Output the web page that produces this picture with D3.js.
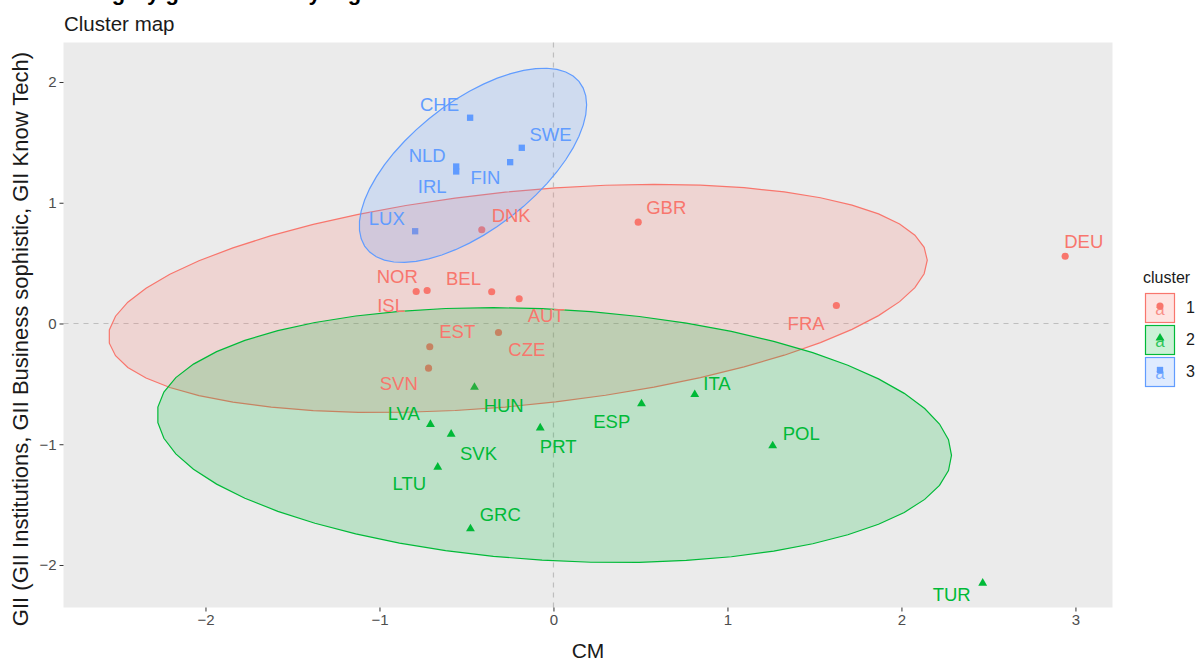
<!DOCTYPE html>
<html>
<head>
<meta charset="utf-8">
<script src="https://cdn.jsdelivr.net/npm/d3@7"></script>
<style>
    body { margin: 0; background: #ffffff; }
    text { font-family: "Liberation Sans", Arial, sans-serif; }
</style>
</head>
<body>
<script>
//cluster members, CM on x and GII on y
var countries = ["DNK", "GBR", "DEU", "NOR", "ISL", "BEL", "AUT", "EST", "CZE", "SVN", "FRA",
                 "HUN", "LVA", "SVK", "LTU", "PRT", "GRC", "ITA", "ESP", "POL", "TUR",
                 "CHE", "SWE", "FIN", "NLD", "IRL", "LUX"];
var clusterOf = [1, 1, 1, 1, 1, 1, 1, 1, 1, 1, 1,
                 2, 2, 2, 2, 2, 2, 2, 2, 2, 2,
                 3, 3, 3, 3, 3, 3];
var cmValues = [-0.412, 0.487, 2.941, -0.789, -0.726, -0.355, -0.197, -0.711, -0.316, -0.718, 1.626,
                -0.454, -0.707, -0.588, -0.665, -0.076, -0.477, 0.812, 0.506, 1.260, 2.467,
                -0.479, -0.182, -0.249, -0.559, -0.559, -0.795];
var giiValues = [0.776, 0.839, 0.557, 0.265, 0.273, 0.263, 0.205, -0.193, -0.075, -0.370, 0.149,
                 -0.528, -0.836, -0.917, -1.190, -0.864, -1.700, -0.588, -0.665, -1.013, -2.151,
                 1.704, 1.455, 1.336, 1.300, 1.259, 0.764];
//where the repelled labels ended up (data units)
var labelCM = [-0.243, 0.648, 3.048, -0.898, -0.933, -0.517, -0.042, -0.553, -0.153, -0.889, 1.452,
               -0.286, -0.860, -0.431, -0.828, 0.027, -0.306, 0.940, 0.335, 1.424, 2.289,
               -0.655, -0.017, -0.391, -0.726, -0.697, -0.958];
var labelGII = [0.894, 0.958, 0.679, 0.392, 0.149, 0.370, 0.066, -0.066, -0.218, -0.499, -0.002,
                -0.679, -0.743, -1.079, -1.328, -1.019, -1.584, -0.499, -0.812, -0.908, -2.247,
                1.814, 1.565, 1.207, 1.391, 1.135, 0.867];

var clusters = [1, 2, 3];
var xLimits = [-2.816, 3.213],
    yLimits = [-2.352, 2.327];
var xTicks = [-2, -1, 0, 1, 2, 3],
    yTicks = [-2, -1, 0, 1, 2];

window.onload = drawChart();

//robust t covariance, same steps as MASS::cov.trob
function covTrob(pts){
    var n = pts.length, p = 2, nu = 5;
    var w = pts.map(function(){ return 1; });
    var loc = [d3.mean(pts, function(d){ return d[0]; }), d3.mean(pts, function(d){ return d[1]; })];
    var X;
    for (var iter = 0; iter < 25; iter++){
        var w0 = w.slice();
        X = pts.map(function(d){ return [d[0] - loc[0], d[1] - loc[1]]; });
        var sw = d3.sum(w);
        var a = 0, b = 0, c = 0;
        for (var i = 0; i < n; i++){
            a += w[i] / sw * X[i][0] * X[i][0];
            b += w[i] / sw * X[i][0] * X[i][1];
            c += w[i] / sw * X[i][1] * X[i][1];
        }
        var det = a * c - b * b;
        w = X.map(function(x){
            var q = (c * x[0] * x[0] - 2 * b * x[0] * x[1] + a * x[1] * x[1]) / det;
            return (nu + p) / (nu + q);
        });
        var sw2 = d3.sum(w);
        loc = [d3.sum(pts, function(d, i){ return w[i] * d[0]; }) / sw2,
               d3.sum(pts, function(d, i){ return w[i] * d[1]; }) / sw2];
        var done = w.every(function(v, i){ return Math.abs(v - w0[i]) < 0.01; });
        if (done) break;
    }
    var ca = 0, cb = 0, cc = 0;
    for (var j = 0; j < n; j++){
        ca += w[j] * X[j][0] * X[j][0];
        cb += w[j] * X[j][0] * X[j][1];
        cc += w[j] * X[j][1] * X[j][1];
    }
    return {center: loc, cov: [ca / n, cb / n, cc / n]};
}

//stat_ellipse(type = "t", level = 0.95)
function ellipsePoints(pts){
    var est = covTrob(pts);
    var dfd = pts.length - 1;
    var fq = dfd / 2 * (Math.pow(0.05, -2 / dfd) - 1);
    var radius = Math.sqrt(2 * fq);
    var r11 = Math.sqrt(est.cov[0]),
        r12 = est.cov[1] / r11,
        r22 = Math.sqrt(est.cov[2] - r12 * r12);
    var out = [];
    for (var k = 0; k <= 51; k++){
        var t = k * 2 * Math.PI / 51;
        var u = Math.cos(t), v = Math.sin(t);
        out.push([est.center[0] + radius * (u * r11),
                  est.center[1] + radius * (u * r12 + v * r22)]);
    }
    return out;
}

function drawChart(){
    var width = 1198,
        height = 662;
    var colors = d3.scaleOrdinal().domain(clusters).range(["#F8766D", "#00BA38", "#619CFF"]);
    var symbols = d3.scaleOrdinal().domain(clusters)
        .range([d3.symbolCircle, d3.symbolTriangle, d3.symbolSquare]);
    var symbolSize = {1: 40, 2: 34, 3: 40};

    var svg = d3.select("body")
        .append("svg")
        .attr("width", width)
        .attr("height", height);

    var x = d3.scaleLinear().domain(xLimits).range([63.5, 1112.5]);
    var y = d3.scaleLinear().domain(yLimits).range([607.5, 42.5]);

    //heading above the subtitle, cut off by the top edge like in the source image
    svg.append("text")
        .attr("x", 64)
        .attr("y", -0.5)
        .attr("font-size", 22)
        .attr("font-weight", "bold")
        .attr("fill", "#000")
        .text("Category grade of EU by region");

    svg.append("text")
        .attr("x", 64)
        .attr("y", 31)
        .attr("font-size", 20.5)
        .attr("fill", "#1a1a1a")
        .text("Cluster map");

    //panel
    svg.append("rect")
        .attr("x", x(xLimits[0]))
        .attr("y", y(yLimits[1]))
        .attr("width", x(xLimits[1]) - x(xLimits[0]))
        .attr("height", y(yLimits[0]) - y(yLimits[1]))
        .attr("fill", "#EBEBEB");

    //zero reference lines
    svg.append("line")
        .attr("x1", x(xLimits[0])).attr("x2", x(xLimits[1]))
        .attr("y1", y(0)).attr("y2", y(0))
        .attr("stroke", "#BEBEBE").attr("stroke-width", 1.2)
        .attr("stroke-dasharray", "5,5");
    svg.append("line")
        .attr("x1", x(0)).attr("x2", x(0))
        .attr("y1", y(yLimits[0])).attr("y2", y(yLimits[1]))
        .attr("stroke", "#BEBEBE").attr("stroke-width", 1.2)
        .attr("stroke-dasharray", "5,5");

    var rows = countries.map(function(name, i){
        return {name: name, cluster: clusterOf[i], cm: cmValues[i], gii: giiValues[i],
                lx: labelCM[i], ly: labelGII[i]};
    });

    //points
    svg.selectAll(".pt")
        .data(rows)
        .enter()
        .append("path")
        .attr("class", "pt")
        .attr("transform", function(d){ return "translate(" + x(d.cm) + "," + y(d.gii) + ")"; })
        .attr("d", function(d){ return d3.symbol().type(symbols(d.cluster)).size(symbolSize[d.cluster])(); })
        .attr("fill", function(d){ return colors(d.cluster); });

    //ellipses
    var line = d3.line()
        .x(function(d){ return x(d[0]); })
        .y(function(d){ return y(d[1]); });
    clusters.forEach(function(k){
        var pts = rows.filter(function(d){ return d.cluster == k; })
            .map(function(d){ return [d.cm, d.gii]; });
        svg.append("path")
            .attr("d", line(ellipsePoints(pts)) + "Z")
            .attr("fill", colors(k))
            .attr("fill-opacity", 0.2)
            .attr("stroke", colors(k))
            .attr("stroke-width", 1.2);
    });

    //labels
    svg.selectAll(".lab")
        .data(rows)
        .enter()
        .append("text")
        .attr("class", "lab")
        .attr("x", function(d){ return x(d.lx); })
        .attr("y", function(d){ return y(d.ly) + 6.6; })
        .attr("text-anchor", "middle")
        .attr("font-size", 18.5)
        .attr("fill", function(d){ return colors(d.cluster); })
        .text(function(d){ return d.name; });

    //axes
    var xAxis = svg.append("g")
        .attr("transform", "translate(0," + y(yLimits[0]) + ")")
        .call(d3.axisBottom(x).tickValues(xTicks).tickFormat(d3.format("d")).tickSize(4).tickPadding(3));
    var yAxis = svg.append("g")
        .attr("transform", "translate(" + x(xLimits[0]) + ",0)")
        .call(d3.axisLeft(y).tickValues(yTicks).tickFormat(d3.format("d")).tickSize(4).tickPadding(3));
    [xAxis, yAxis].forEach(function(g){
        g.select(".domain").remove();
        g.selectAll("line").attr("stroke", "#333333");
        g.selectAll("text").attr("fill", "#4D4D4D").attr("font-size", 15)
            .attr("font-family", "Liberation Sans, Arial, sans-serif");
    });

    svg.append("text")
        .attr("x", (x(xLimits[0]) + x(xLimits[1])) / 2)
        .attr("y", 658)
        .attr("text-anchor", "middle")
        .attr("font-size", 21)
        .attr("fill", "#1a1a1a")
        .text("CM");

    svg.append("text")
        .attr("transform", "translate(28,339) rotate(-90)")
        .attr("text-anchor", "middle")
        .attr("font-size", 22)
        .attr("fill", "#1a1a1a")
        .text("GII (GII Institutions, GII Business sophistic, GII Know Tech)");

    //legend
    var legend = svg.append("g").attr("transform", "translate(1143,0)");
    legend.append("text")
        .attr("x", 0)
        .attr("y", 283)
        .attr("font-size", 16)
        .attr("fill", "#1a1a1a")
        .text("cluster");
    clusters.forEach(function(k, i){
        var top = 293 + i * 32;
        legend.append("rect")
            .attr("x", 2.5).attr("y", top + 0.5)
            .attr("width", 29).attr("height", 29)
            .attr("fill", colors(k)).attr("fill-opacity", 0.2)
            .attr("stroke", colors(k)).attr("stroke-width", 1.2);
        legend.append("text")
            .attr("x", 17).attr("y", top + 22)
            .attr("text-anchor", "middle")
            .attr("font-size", 17)
            .attr("fill", colors(k))
            .attr("fill-opacity", 0.8)
            .text("a");
        legend.append("path")
            .attr("transform", "translate(17," + (top + 13) + ")")
            .attr("d", d3.symbol().type(symbols(k)).size(symbolSize[k])())
            .attr("fill", colors(k));
        legend.append("text")
            .attr("x", 43).attr("y", top + 20)
            .attr("font-size", 16)
            .attr("fill", "#1a1a1a")
            .text(k);
    });
}
</script>
</body>
</html>
